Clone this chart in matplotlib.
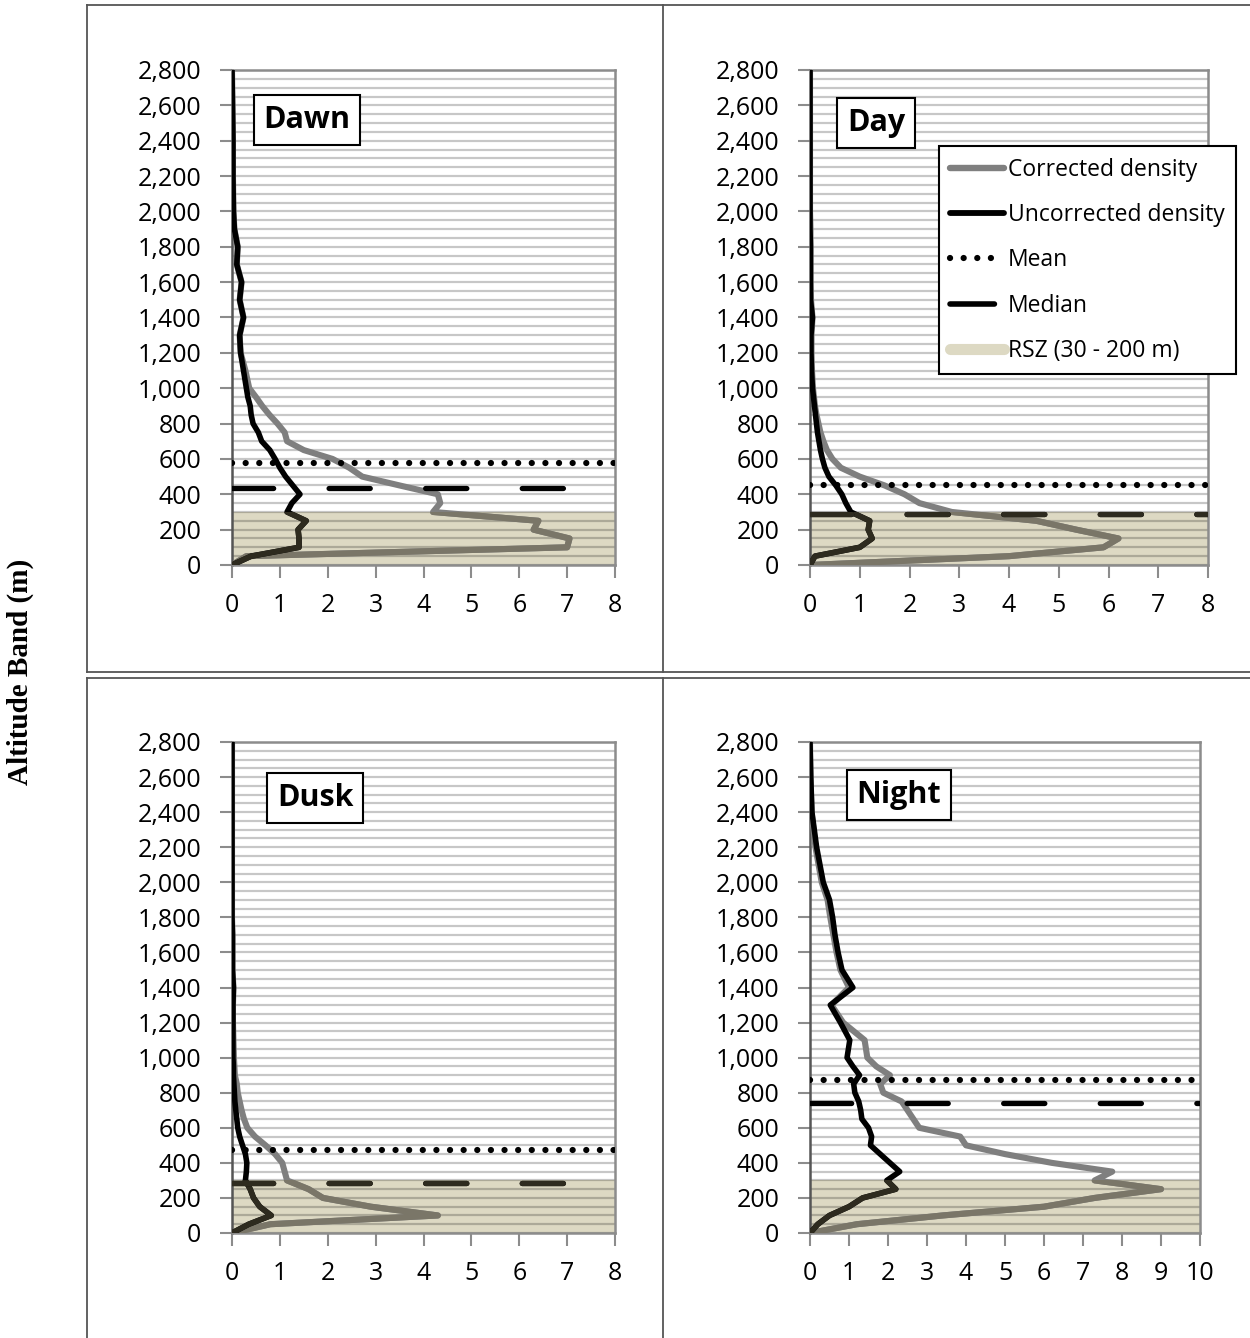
import numpy as np
import matplotlib
matplotlib.use("Agg")
import matplotlib.pyplot as plt
from matplotlib.lines import Line2D

plt.rcParams['font.family'] = ['Open Sans', 'DejaVu Sans']

# altitude bands (m)
ALT = [0, 50, 100, 150, 200, 250, 300, 350, 400, 450, 500, 550, 600, 650, 700,
       750, 800, 850, 900, 950, 1000, 1100, 1200, 1300, 1400, 1500, 1600, 1700,
       1800, 1900, 2000, 2200, 2400, 2600, 2800]

dawn_corr = [0, 0.3, 7.0, 7.05, 6.3, 6.4, 4.2, 4.35, 4.3, 3.5, 2.72, 2.45, 2.1, 1.5, 1.15,
             1.1, 0.95, 0.78, 0.63, 0.5, 0.36, 0.28, 0.18, 0.16, 0.24, 0.16, 0.2, 0.1,
             0.12, 0.05, 0.03, 0.02, 0.02, 0.01, 0.0]
dawn_unc = [0, 0.4, 1.4, 1.4, 1.38, 1.55, 1.15, 1.25, 1.42, 1.27, 1.12, 1.0, 0.9, 0.79, 0.62,
            0.55, 0.44, 0.4, 0.38, 0.33, 0.3, 0.24, 0.18, 0.16, 0.24, 0.16, 0.2, 0.1,
            0.12, 0.05, 0.03, 0.02, 0.02, 0.01, 0.0]

day_corr = [0, 4.0, 5.9, 6.2, 5.35, 4.55, 2.85, 2.2, 1.9, 1.5, 1.0, 0.62, 0.45, 0.34, 0.27,
            0.21, 0.17, 0.13, 0.1, 0.08, 0.06, 0.04, 0.03, 0.03, 0.05, 0.02, 0.01, 0.01,
            0.01, 0.01, 0.0, 0.0, 0.0, 0.0, 0.0]
day_unc = [0, 0.1, 1.0, 1.25, 1.17, 1.2, 0.82, 0.72, 0.64, 0.52, 0.38, 0.3, 0.25, 0.21, 0.18,
           0.15, 0.13, 0.11, 0.09, 0.07, 0.05, 0.03, 0.02, 0.02, 0.05, 0.01, 0.01, 0.01,
           0.01, 0.0, 0.0, 0.0, 0.0, 0.0, 0.0]

dusk_corr = [0, 0.8, 4.3, 2.9, 1.9, 1.6, 1.15, 1.1, 1.05, 0.9, 0.7, 0.48, 0.32, 0.25, 0.2,
             0.16, 0.12, 0.1, 0.06, 0.05, 0.04, 0.03, 0.02, 0.02, 0.03, 0.01, 0.01, 0.01,
             0.0, 0.0, 0.0, 0.0, 0.0, 0.0, 0.0]
dusk_unc = [0, 0.35, 0.82, 0.58, 0.45, 0.38, 0.28, 0.3, 0.31, 0.28, 0.22, 0.16, 0.12, 0.1, 0.08,
            0.06, 0.05, 0.04, 0.03, 0.03, 0.02, 0.02, 0.02, 0.02, 0.03, 0.01, 0.01, 0.01,
            0.0, 0.0, 0.0, 0.0, 0.0, 0.0, 0.0]

night_corr = [0, 1.2, 3.4, 6.0, 7.3, 9.0, 7.3, 7.75, 6.2, 5.0, 4.0, 3.85, 2.8, 2.65, 2.5,
              2.35, 1.88, 1.8, 2.05, 1.7, 1.47, 1.4, 0.85, 0.55, 1.0, 0.78, 0.68, 0.6,
              0.52, 0.45, 0.3, 0.14, 0.04, 0.01, 0.0]
night_unc = [0, 0.2, 0.5, 1.0, 1.35, 2.2, 1.97, 2.3, 2.05, 1.8, 1.55, 1.58, 1.5, 1.33, 1.3,
             1.25, 1.15, 1.12, 1.27, 1.1, 0.95, 1.02, 0.78, 0.52, 1.1, 0.82, 0.72, 0.64,
             0.58, 0.5, 0.34, 0.17, 0.05, 0.02, 0.0]

names = ["Dawn", "Day", "Dusk", "Night"]
corrected = [dawn_corr, day_corr, dusk_corr, night_corr]
uncorrected = [dawn_unc, day_unc, dusk_unc, night_unc]
means = [575, 450, 473, 872]
medians = [434, 286, 284, 742]
xmax = [8, 8, 8, 10]
RSZ = (0, 300)

W, H = 1250, 1338
GREY = '#7f7f7f'
GREY_IN = '#7a7668'
BLACK_IN = '#2e2b1f'
TAN = '#ddd9c3'
AXC = '#8c8c8c'

fig = plt.figure(figsize=(W / 100, H / 100), dpi=100)

# plot areas in pixels: left, right, top, bottom
boxes = [(232, 615, 70, 565), (810, 1208, 70, 565),
         (232, 615, 742, 1233), (810, 1200, 742, 1233)]
title_pos = [(0.196, 0.899), (0.166, 0.893), (0.217, 0.886), (0.228, 0.892)]

for i in range(4):
    l, r, t, b = boxes[i]
    ax = fig.add_axes([l / W, 1 - b / H, (r - l) / W, (b - t) / H])
    ax.set_xlim(0, xmax[i])
    ax.set_ylim(0, 2800)
    ax.set_xticks(range(0, xmax[i] + 1))
    ax.set_yticks(range(0, 2801, 200))
    ax.set_yticklabels([f"{v:,}" for v in range(0, 2801, 200)])
    ax.set_yticks(range(0, 2801, 50), minor=True)
    ax.set_axisbelow(True)
    ax.grid(axis='y', which='both', color='k', alpha=0.22, lw=1.6)
    ax.tick_params(axis='both', which='major', direction='out', length=9, width=1.5,
                   color=AXC, labelsize=18)
    ax.tick_params(axis='y', which='major', pad=13)
    ax.tick_params(axis='x', which='major', pad=11)
    ax.tick_params(axis='y', which='minor', length=0)
    for s in ax.spines.values():
        s.set_color(AXC)
        s.set_linewidth(1.8)
    ax.spines['left'].set_color('#555555')

    rsz = ax.axhspan(RSZ[0], RSZ[1], facecolor=TAN, edgecolor='none', zorder=0.3)

    # corrected under uncorrected; a second copy clipped to the RSZ band gives the tint
    ckw = dict(lw=4.4, solid_joinstyle='round', solid_capstyle='round')
    ukw = dict(lw=4.0, solid_joinstyle='round', solid_capstyle='round')
    ax.plot(corrected[i], ALT, color=GREY, zorder=3, **ckw)
    ln, = ax.plot(corrected[i], ALT, color=GREY_IN, zorder=3.1, **ckw)
    ln.set_clip_path(rsz)
    ax.plot(uncorrected[i], ALT, color='black', zorder=4, **ukw)
    ln, = ax.plot(uncorrected[i], ALT, color=BLACK_IN, zorder=4.1, **ukw)
    ln.set_clip_path(rsz)

    ax.axhline(means[i], color='black', lw=4.5, linestyle=(0, (0.01, 2.17)),
               dash_capstyle='round', zorder=5)
    med_kw = dict(lw=3.8, linestyle=(0, (7.8, 10.5)), dash_capstyle='round', zorder=5)
    ax.axhline(medians[i], color='black', **med_kw)
    ln = ax.axhline(medians[i], color=BLACK_IN, **med_kw)
    ln.set_clip_path(rsz)

    tx, ty = title_pos[i]
    ax.text(tx, ty, names[i], transform=ax.transAxes, ha='center', va='center',
            fontsize=22, fontweight='bold', zorder=6,
            bbox=dict(boxstyle='square,pad=0.32', fc='white', ec='black', lw=1.5))

    if i == 1:
        handles = [
            Line2D([], [], color=GREY, lw=4.6, solid_capstyle='round'),
            Line2D([], [], color='black', lw=4.2, solid_capstyle='round'),
            Line2D([], [], color='black', lw=4.5, linestyle=(0, (0.01, 2.17)),
                   dash_capstyle='round'),
            Line2D([], [], color='black', lw=4.0, linestyle=(0, (8.0, 20)),
                   dash_capstyle='round'),
            Line2D([], [], color=TAN, lw=8, solid_capstyle='round'),
        ]
        labels = ["Corrected density", "Uncorrected density", "Mean", "Median",
                  "RSZ (30 - 200 m)"]
        leg = ax.legend(handles, labels, loc='upper left', bbox_to_anchor=(0.324, 0.846),
                        fontsize=16.5, handlelength=2.35, handletextpad=0.15,
                        labelspacing=0.93, borderpad=0.5, borderaxespad=0,
                        fancybox=False, framealpha=1, edgecolor='black')
        leg.get_frame().set_linewidth(1.5)
        leg.set_zorder(7)


def fline(x0, y0, x1, y1):
    fig.add_artist(Line2D([x0 / W, x1 / W], [1 - y0 / H, 1 - y1 / H],
                          transform=fig.transFigure, color='#555555', lw=1.3))


fline(87, 5, W, 5)
fline(87, 5, 87, 672)
fline(87, 672, W, 672)
fline(663, 5, 663, 672)
fline(87, 678, W, 678)
fline(87, 678, 87, H)
fline(663, 678, 663, H)

fig.text(20 / W, 1 - 672 / H, "Altitude Band (m)", rotation=90, ha='center', va='center',
         fontfamily='Liberation Serif', fontweight='bold', fontsize=21)

fig.savefig("out.png", dpi=100)
